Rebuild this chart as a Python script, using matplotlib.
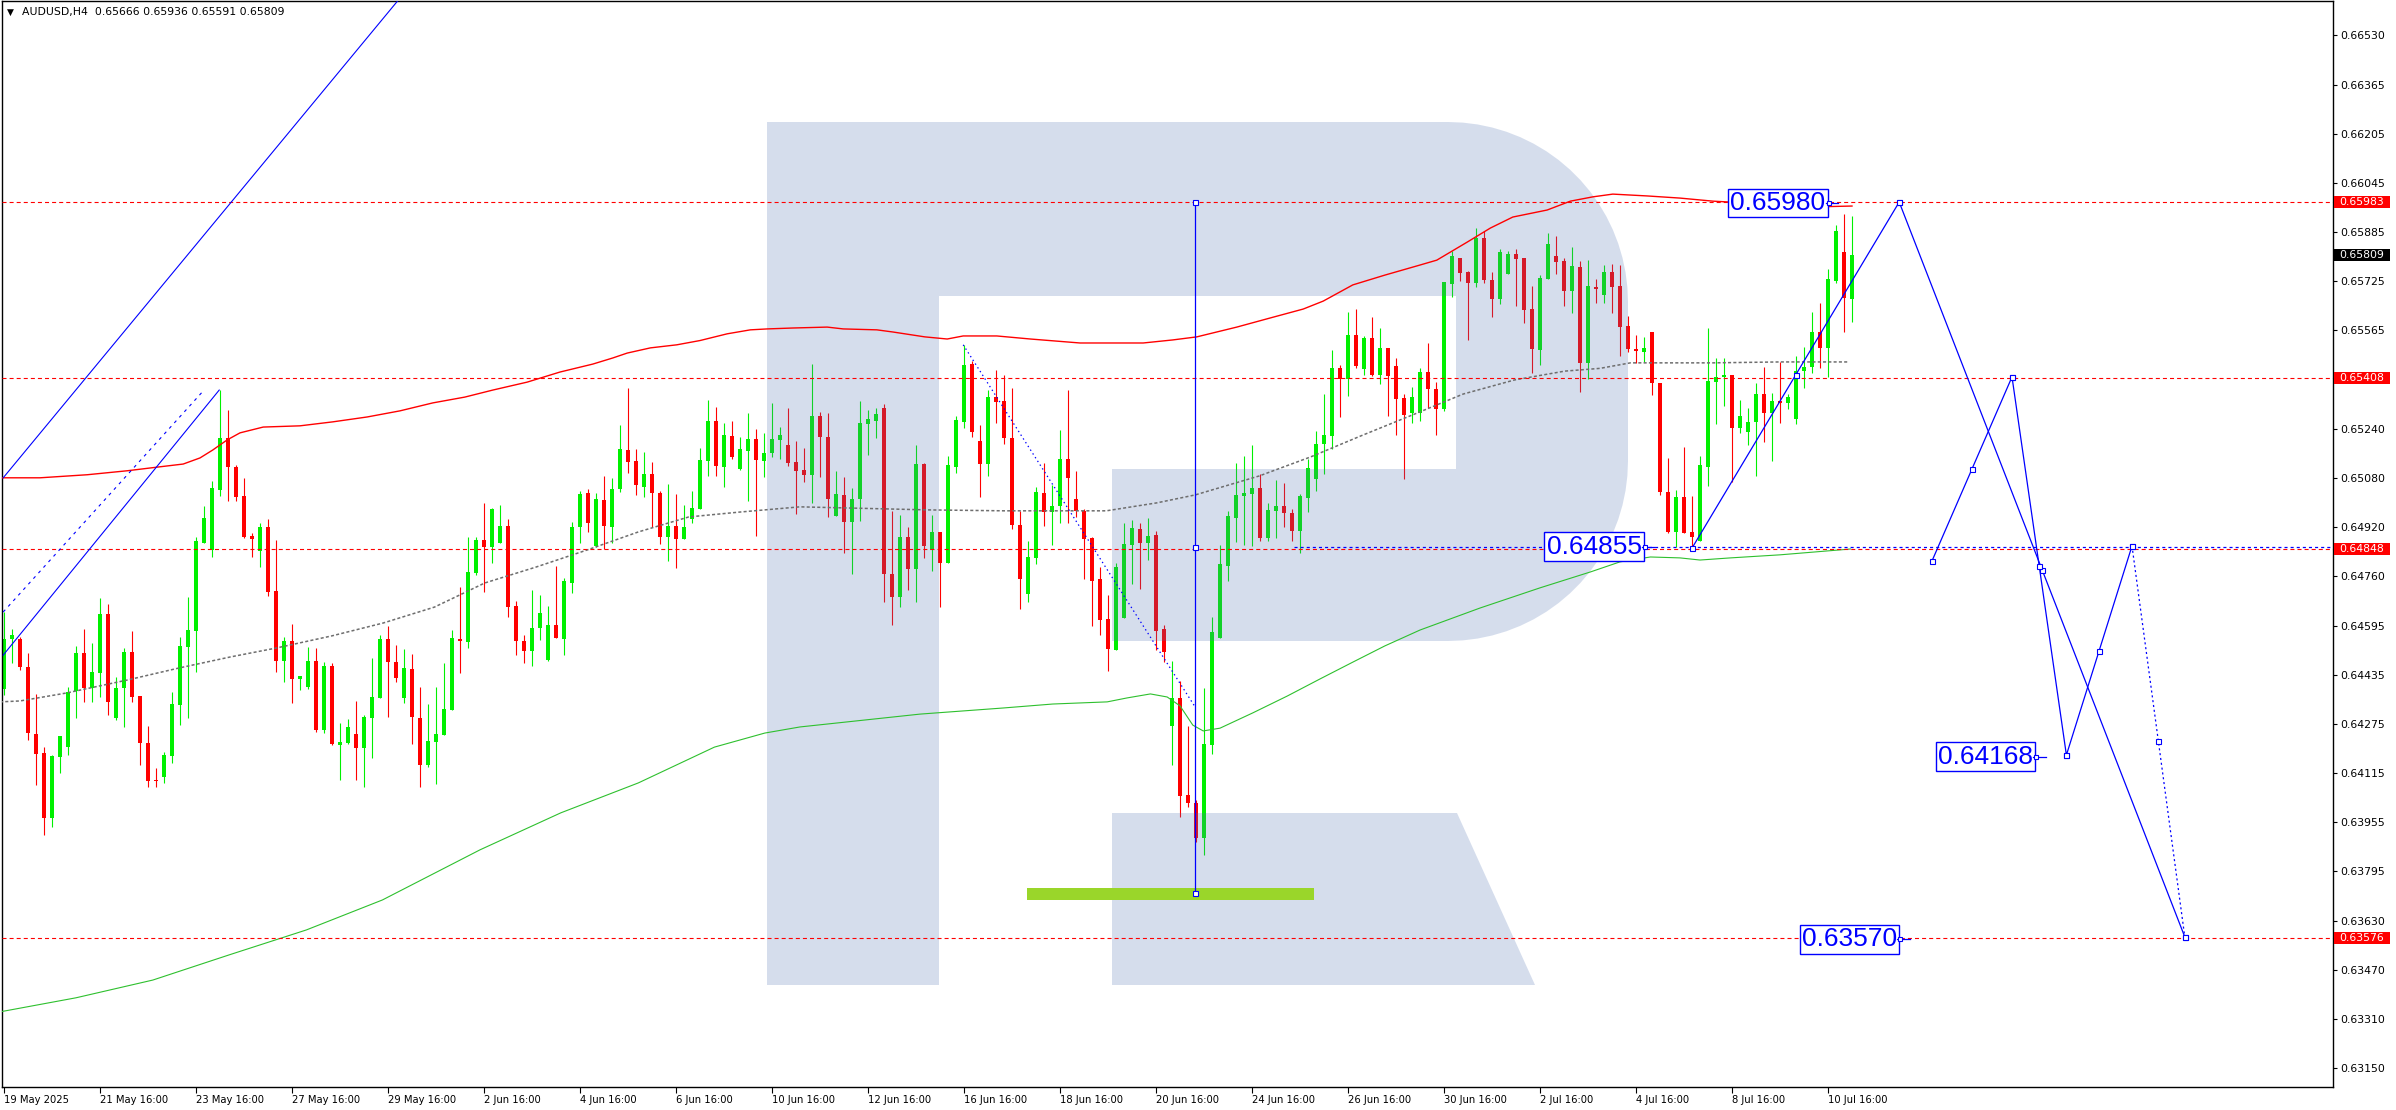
import numpy as np
import matplotlib
matplotlib.use("Agg")
import matplotlib.pyplot as plt
import matplotlib.transforms as mtransforms
from matplotlib.patches import Polygon, Rectangle

# AUDUSD H4, bar 0 = 19 May 2025 16:00, one bar = 4 hours
opens = [
    0.64390, 0.64553, 0.64553, 0.64461, 0.64242, 0.64180, 0.63968, 0.64167, 0.64199, 0.64383, 0.64507, 0.64393,
    0.64441, 0.64635, 0.64295, 0.64393, 0.64510, 0.64366, 0.64212, 0.64092, 0.64101, 0.64170, 0.64337, 0.64527,
    0.64579, 0.64867, 0.64844, 0.65040, 0.65211, 0.65115, 0.65020, 0.64889, 0.64841, 0.64919, 0.64710, 0.64481,
    0.64547, 0.64422, 0.64396, 0.64481, 0.64255, 0.64464, 0.64206, 0.64212, 0.64242, 0.64196, 0.64295, 0.64360,
    0.64553, 0.64477, 0.64360, 0.64455, 0.64295, 0.64141, 0.64215, 0.64239, 0.64321, 0.64553, 0.64543, 0.64769,
    0.64877, 0.64854, 0.64867, 0.64922, 0.64660, 0.64547, 0.64514, 0.64589, 0.64484, 0.64599, 0.64553, 0.64736,
    0.64919, 0.65030, 0.64857, 0.65008, 0.64919, 0.65044, 0.65171, 0.65135, 0.65050, 0.65093, 0.65030, 0.64886,
    0.64922, 0.64880, 0.64946, 0.64979, 0.65135, 0.65266, 0.65115, 0.65217, 0.65109, 0.65168, 0.65208, 0.65135,
    0.65161, 0.65204, 0.65188, 0.65131, 0.65106, 0.65090, 0.65282, 0.65214, 0.64955, 0.65024, 0.64935, 0.65011,
    0.65256, 0.65266, 0.65309, 0.64766, 0.64690, 0.64886, 0.64782, 0.65125, 0.64844, 0.64902, 0.64801, 0.65115,
    0.65262, 0.65452, 0.65201, 0.65125, 0.65344, 0.65332, 0.65211, 0.64926, 0.64700, 0.64818, 0.65030, 0.64968,
    0.64988, 0.65142, 0.65011, 0.64972, 0.64883, 0.64750, 0.64619, 0.64517, 0.64622, 0.64861, 0.64913, 0.64867,
    0.64893, 0.64586, 0.64268, 0.64360, 0.64043, 0.64016, 0.63902, 0.64206, 0.64556, 0.64791, 0.64949, 0.65020,
    0.65027, 0.65047, 0.64883, 0.64972, 0.64988, 0.64965, 0.64906, 0.65014, 0.65076, 0.65191, 0.65217, 0.65439,
    0.65403, 0.65547, 0.65436, 0.65537, 0.65417, 0.65505, 0.65446, 0.65341, 0.65292, 0.65292, 0.65426, 0.65371,
    0.65305, 0.65714, 0.65799, 0.65753, 0.65717, 0.65864, 0.65727, 0.65665, 0.65747, 0.65812, 0.65799, 0.65632,
    0.65498, 0.65730, 0.65805, 0.65789, 0.65691, 0.65770, 0.65455, 0.65704, 0.65678, 0.65753, 0.65707, 0.65577,
    0.65502, 0.65492, 0.65557, 0.65390, 0.65033, 0.64902, 0.65017, 0.64902, 0.64874, 0.65115, 0.65393, 0.65410,
    0.65417, 0.65243, 0.65230, 0.65262, 0.65354, 0.65292, 0.65332, 0.65325, 0.65273, 0.65430, 0.65443, 0.65557,
    0.65505, 0.65724, 0.65819, 0.65666,
]
highs = [
    0.64641, 0.64586, 0.64559, 0.64507, 0.64373, 0.64199, 0.64174, 0.64235, 0.64396, 0.64530, 0.64586, 0.64540,
    0.64687, 0.64667, 0.64428, 0.64524, 0.64579, 0.64366, 0.64268, 0.64131, 0.64183, 0.64379, 0.64559, 0.64690,
    0.64886, 0.64988, 0.65070, 0.65367, 0.65302, 0.65122, 0.65080, 0.64899, 0.64932, 0.64946, 0.64877, 0.64559,
    0.64602, 0.64431, 0.64527, 0.64524, 0.64477, 0.64474, 0.64278, 0.64292, 0.64350, 0.64305, 0.64491, 0.64566,
    0.64595, 0.64534, 0.64521, 0.64504, 0.64396, 0.64340, 0.64396, 0.64474, 0.64582, 0.64723, 0.64886, 0.64886,
    0.64998, 0.64982, 0.64992, 0.64946, 0.64677, 0.64566, 0.64713, 0.64697, 0.64660, 0.64791, 0.64753, 0.64935,
    0.65037, 0.65044, 0.65030, 0.65086, 0.65080, 0.65253, 0.65374, 0.65175, 0.65164, 0.65131, 0.65037, 0.65060,
    0.65027, 0.64992, 0.65037, 0.65178, 0.65335, 0.65312, 0.65259, 0.65266, 0.65214, 0.65292, 0.65240, 0.65227,
    0.65325, 0.65246, 0.65309, 0.65201, 0.65178, 0.65452, 0.65295, 0.65292, 0.65103, 0.65083, 0.65047, 0.65332,
    0.65302, 0.65309, 0.65322, 0.64972, 0.64959, 0.64919, 0.65188, 0.65128, 0.64959, 0.64902, 0.65151, 0.65282,
    0.65515, 0.65462, 0.65253, 0.65367, 0.65433, 0.65417, 0.65374, 0.64972, 0.64874, 0.65050, 0.65128, 0.65057,
    0.65237, 0.65367, 0.65103, 0.64979, 0.64886, 0.64788, 0.64697, 0.64801, 0.64932, 0.64942, 0.64932, 0.64949,
    0.64906, 0.64599, 0.64481, 0.64416, 0.64268, 0.64026, 0.64393, 0.64625, 0.64861, 0.64972, 0.65128, 0.65151,
    0.65188, 0.65093, 0.64998, 0.65073, 0.65063, 0.64979, 0.65027, 0.65142, 0.65234, 0.65354, 0.65498, 0.65449,
    0.65622, 0.65632, 0.65544, 0.65606, 0.65570, 0.65505, 0.65472, 0.65354, 0.65377, 0.65439, 0.65521, 0.65393,
    0.65720, 0.65822, 0.65799, 0.65756, 0.65897, 0.65887, 0.65753, 0.65828, 0.65822, 0.65828, 0.65799, 0.65707,
    0.65743, 0.65881, 0.65871, 0.65799, 0.65835, 0.65789, 0.65792, 0.65730, 0.65776, 0.65779, 0.65776, 0.65609,
    0.65547, 0.65541, 0.65557, 0.65390, 0.65145, 0.65040, 0.65181, 0.65020, 0.65151, 0.65570, 0.65472, 0.65472,
    0.65417, 0.65335, 0.65309, 0.65390, 0.65443, 0.65358, 0.65459, 0.65354, 0.65478, 0.65508, 0.65622, 0.65652,
    0.65763, 0.65907, 0.65943, 0.65936,
]
lows = [
    0.64370, 0.64474, 0.64451, 0.64222, 0.64076, 0.63912, 0.63938, 0.64114, 0.64174, 0.64295, 0.64346, 0.64346,
    0.64363, 0.64305, 0.64288, 0.64265, 0.64346, 0.64141, 0.64069, 0.64069, 0.64082, 0.64147, 0.64272, 0.64295,
    0.64444, 0.64867, 0.64821, 0.65020, 0.65005, 0.65005, 0.64883, 0.64821, 0.64788, 0.64693, 0.64444, 0.64412,
    0.64343, 0.64386, 0.64390, 0.64248, 0.64245, 0.64206, 0.64092, 0.64209, 0.64092, 0.64069, 0.64164, 0.64360,
    0.64298, 0.64412, 0.64343, 0.64209, 0.64069, 0.64134, 0.64079, 0.64239, 0.64321, 0.64441, 0.64524, 0.64763,
    0.64706, 0.64801, 0.64867, 0.64625, 0.64501, 0.64474, 0.64464, 0.64550, 0.64481, 0.64556, 0.64501, 0.64703,
    0.64867, 0.64902, 0.64854, 0.64848, 0.64867, 0.65033, 0.65096, 0.65024, 0.65017, 0.64919, 0.64864, 0.64808,
    0.64785, 0.64880, 0.64932, 0.64979, 0.65086, 0.65086, 0.65050, 0.65142, 0.65106, 0.65005, 0.64889, 0.65083,
    0.65148, 0.65142, 0.65118, 0.64962, 0.65066, 0.64998, 0.65083, 0.64952, 0.64955, 0.64834, 0.64766, 0.64939,
    0.65155, 0.65211, 0.64673, 0.64599, 0.64657, 0.64713, 0.64673, 0.64818, 0.64776, 0.64657, 0.64801, 0.65096,
    0.65243, 0.65214, 0.65017, 0.65086, 0.65259, 0.65191, 0.64913, 0.64651, 0.64673, 0.64798, 0.64922, 0.64861,
    0.64932, 0.64932, 0.64952, 0.64750, 0.64595, 0.64566, 0.64448, 0.64517, 0.64622, 0.64733, 0.64717, 0.64811,
    0.64517, 0.64477, 0.64141, 0.63971, 0.64003, 0.63888, 0.63847, 0.64177, 0.64556, 0.64743, 0.64870, 0.64861,
    0.64857, 0.64874, 0.64874, 0.64883, 0.64919, 0.64874, 0.64834, 0.64968, 0.65037, 0.65093, 0.65175, 0.65279,
    0.65347, 0.65439, 0.65417, 0.65413, 0.65387, 0.65282, 0.65221, 0.65076, 0.65259, 0.65266, 0.65309, 0.65221,
    0.65299, 0.65671, 0.65724, 0.65531, 0.65704, 0.65717, 0.65606, 0.65649, 0.65747, 0.65642, 0.65586, 0.65423,
    0.65449, 0.65730, 0.65747, 0.65642, 0.65619, 0.65361, 0.65403, 0.65652, 0.65652, 0.65619, 0.65478, 0.65492,
    0.65456, 0.65459, 0.65351, 0.65024, 0.64899, 0.64854, 0.64899, 0.64854, 0.64874, 0.65053, 0.65256, 0.65315,
    0.65066, 0.65227, 0.65188, 0.65086, 0.65198, 0.65135, 0.65259, 0.65305, 0.65256, 0.65374, 0.65423, 0.65439,
    0.65410, 0.65717, 0.65557, 0.65591,
]
closes = [
    0.64553, 0.64566, 0.64461, 0.64245, 0.64177, 0.63968, 0.64170, 0.64235, 0.64379, 0.64507, 0.64393, 0.64444,
    0.64635, 0.64346, 0.64393, 0.64510, 0.64363, 0.64212, 0.64089, 0.64089, 0.64174, 0.64340, 0.64530, 0.64582,
    0.64874, 0.64949, 0.65047, 0.65211, 0.65115, 0.65017, 0.64886, 0.64880, 0.64919, 0.64706, 0.64481, 0.64547,
    0.64422, 0.64431, 0.64481, 0.64255, 0.64464, 0.64209, 0.64215, 0.64265, 0.64196, 0.64298, 0.64363, 0.64553,
    0.64477, 0.64425, 0.64458, 0.64298, 0.64141, 0.64219, 0.64242, 0.64324, 0.64556, 0.64547, 0.64772, 0.64877,
    0.64854, 0.64979, 0.64922, 0.64657, 0.64547, 0.64514, 0.64589, 0.64638, 0.64599, 0.64556, 0.64743, 0.64919,
    0.65027, 0.64932, 0.65011, 0.64922, 0.65044, 0.65175, 0.65131, 0.65057, 0.65093, 0.65030, 0.64886, 0.64922,
    0.64880, 0.64919, 0.64982, 0.65138, 0.65266, 0.65118, 0.65221, 0.65148, 0.65175, 0.65208, 0.65138, 0.65161,
    0.65208, 0.65221, 0.65128, 0.65103, 0.65090, 0.65282, 0.65214, 0.65011, 0.65027, 0.64935, 0.65011, 0.65259,
    0.65273, 0.65289, 0.64766, 0.64690, 0.64886, 0.64782, 0.65125, 0.64857, 0.64902, 0.64801, 0.65122, 0.65269,
    0.65449, 0.65230, 0.65125, 0.65344, 0.65328, 0.65211, 0.64926, 0.64750, 0.64821, 0.65033, 0.64968, 0.64988,
    0.65142, 0.65080, 0.64972, 0.64880, 0.64743, 0.64615, 0.64521, 0.64788, 0.64864, 0.64916, 0.64867, 0.64889,
    0.64579, 0.64510, 0.64360, 0.64039, 0.64016, 0.63902, 0.64209, 0.64575, 0.64798, 0.64955, 0.65024, 0.65030,
    0.65047, 0.64883, 0.64975, 0.64988, 0.64965, 0.64906, 0.65020, 0.65112, 0.65191, 0.65221, 0.65439, 0.65403,
    0.65547, 0.65446, 0.65537, 0.65417, 0.65505, 0.65413, 0.65338, 0.65286, 0.65344, 0.65426, 0.65371, 0.65305,
    0.65720, 0.65805, 0.65750, 0.65717, 0.65864, 0.65727, 0.65665, 0.65819, 0.65812, 0.65796, 0.65629, 0.65502,
    0.65734, 0.65845, 0.65786, 0.65691, 0.65773, 0.65455, 0.65707, 0.65697, 0.65753, 0.65704, 0.65573, 0.65502,
    0.65495, 0.65505, 0.65390, 0.65033, 0.64902, 0.65017, 0.64899, 0.64886, 0.65122, 0.65397, 0.65410, 0.65417,
    0.65243, 0.65282, 0.65262, 0.65354, 0.65292, 0.65332, 0.65325, 0.65344, 0.65430, 0.65443, 0.65557, 0.65505,
    0.65730, 0.65887, 0.65668, 0.65809,
]

# bands (upper red, middle grey, lower green), x in bars
upper_x = [-0.5, 4.5, 10.4, 15.4, 19.5, 22.4, 24.5, 26.1, 27.9, 29.5, 32.4, 37.0, 41.1, 45.4, 49.5, 53.6,
           57.6, 61.1, 65.4, 69.5, 73.6, 76.1, 77.9, 80.8, 84.1, 87.0, 90.4, 93.3, 95.4, 98.6, 102.9, 104.9,
           109.1, 111.1, 115.1, 117.9, 119.9, 124.1, 128.3, 134.5, 142.4, 146.1, 149.1, 154.1, 158.3, 162.4,
           164.9, 168.6, 172.6, 177.0, 179.1, 182.9, 185.8, 188.6, 192.9, 195.8, 198.6, 201.1, 205.4, 209.5,
           213.6, 217.9, 222.0, 226.1, 231.0]
upper_y = [0.65080, 0.65080, 0.65090, 0.65103, 0.65116, 0.65125, 0.65145, 0.65171, 0.65204, 0.65227, 0.65246,
           0.65250, 0.65263, 0.65279, 0.65299, 0.65325, 0.65344, 0.65367, 0.65393, 0.65426, 0.65452, 0.65472,
           0.65488, 0.65505, 0.65515, 0.65529, 0.65551, 0.65564, 0.65567, 0.65570, 0.65573, 0.65567, 0.65564,
           0.65557, 0.65541, 0.65534, 0.65544, 0.65544, 0.65534, 0.65521, 0.65521, 0.65531, 0.65541, 0.65573,
           0.65603, 0.65632, 0.65658, 0.65711, 0.65743, 0.65776, 0.65792, 0.65851, 0.65897, 0.65933, 0.65956,
           0.65985, 0.65999, 0.66008, 0.66002, 0.65995, 0.65985, 0.65979, 0.65972, 0.65966, 0.65969]
mid_x = [-0.5, 2.0, 7.8, 15.5, 21.9, 28.3, 34.0, 41.0, 47.4, 53.8, 60.1, 66.5, 72.9, 79.3, 85.6, 92.0, 99.5,
         115.5, 125.0, 137.8, 144.1, 148.9, 156.9, 163.3, 169.6, 176.0, 182.4, 188.8, 195.1, 199.5, 203.3,
         213.6, 222.0, 230.4]
mid_y = [0.64347, 0.64350, 0.64376, 0.64419, 0.64458, 0.64494, 0.64523, 0.64563, 0.64605, 0.64657, 0.64736,
         0.64788, 0.64844, 0.64903, 0.64952, 0.64968, 0.64985, 0.64975, 0.64972, 0.64972, 0.64998, 0.65024,
         0.65086, 0.65148, 0.65217, 0.65285, 0.65354, 0.65400, 0.65429, 0.65438, 0.65456, 0.65456, 0.65459,
         0.65459]
lower_x = [-0.5, 9.0, 18.6, 28.1, 37.8, 47.3, 59.5, 69.6, 79.3, 88.8, 95.1, 99.5, 114.5, 124.9, 131.1, 137.9,
           140.4, 143.3, 145.4, 147.0, 148.6, 149.9, 152.0, 156.1, 160.4, 164.5, 168.6, 172.6, 177.0, 184.5,
           192.0, 198.3, 202.0, 205.8, 209.5, 212.0, 215.8, 222.0, 230.8]
lower_y = [0.63333, 0.63379, 0.63437, 0.63519, 0.63601, 0.63699, 0.63863, 0.63984, 0.64082, 0.64199, 0.64245,
           0.64265, 0.64307, 0.64327, 0.64340, 0.64347, 0.64360, 0.64373, 0.64363, 0.64334, 0.64271, 0.64252,
           0.64261, 0.64311, 0.64366, 0.64422, 0.64477, 0.64530, 0.64582, 0.64654, 0.64720, 0.64772, 0.64805,
           0.64821, 0.64818, 0.64811, 0.64818, 0.64828, 0.64847]

levels = [0.65983, 0.65408, 0.64848, 0.63576]
last_price = 0.65809

y_ticks = [0.66530, 0.66365, 0.66205, 0.66045, 0.65885, 0.65725, 0.65565, 0.65240, 0.65080, 0.64920,
           0.64760, 0.64595, 0.64435, 0.64275, 0.64115, 0.63955, 0.63795, 0.63630, 0.63470, 0.63310, 0.63150]
x_ticks = list(range(0, 229, 12))
x_labels = ['19 May 2025', '21 May 16:00', '23 May 16:00', '27 May 16:00', '29 May 16:00', '2 Jun 16:00',
            '4 Jun 16:00', '6 Jun 16:00', '10 Jun 16:00', '12 Jun 16:00', '16 Jun 16:00', '18 Jun 16:00',
            '20 Jun 16:00', '24 Jun 16:00', '26 Jun 16:00', '30 Jun 16:00', '2 Jul 16:00', '4 Jul 16:00',
            '8 Jul 16:00', '10 Jul 16:00']

# drawn objects: (x in bars, price)
channel_up = [(-0.1, 0.65080), (49.3, 0.66643)]
channel_lo = [(-0.1, 0.64500), (26.9, 0.65367)]
channel_mid = [(-0.1, 0.64641), (24.9, 0.65364)]
fall_line = [(119.9, 0.65515), (148.9, 0.64330)]
vert_line = [(148.9, 0.65983), (148.9, 0.63722)]
target_box = (127.9, 163.8, 0.63699, 0.63738)
path_main = [(211.0, 0.64850), (236.9, 0.65982), (272.6, 0.63578)]
path_alt = [(241.0, 0.64808), (251.0, 0.65410), (257.8, 0.64173), (266.0, 0.64857)]
path_alt_end = [(266.0, 0.64857), (272.6, 0.63578)]
blue_level = [(161.3, 0.64855), (291.2, 0.64855)]
price_tags = [(228.1, 0.65980, '0.65980'), (205.1, 0.64855, '0.64855'),
              (254.0, 0.64168, '0.64168'), (237.0, 0.63570, '0.63570')]

W, H = 2396, 1110
plt.rcParams['font.family'] = ['DejaVu Sans']
plt.rcParams['lines.scale_dashes'] = False

fig = plt.figure(figsize=(W / 100, H / 100), dpi=100)
ax = fig.add_axes([2 / W, 23 / H, 2331 / W, 1086 / H])
ax.set_xlim(-0.25, 291.125)
ax.set_ylim(0.630872, 0.666397)

GREEN = '#00F000'
RED = '#FF0000'
BLUE = '#0000FF'

o = np.array(opens); h = np.array(highs); l = np.array(lows); c = np.array(closes)
x = np.arange(len(c))
col = np.where(c >= o, GREEN, RED)
ax.vlines(x, l, h, colors=col, linewidth=0.8, zorder=2)
ax.bar(x, np.maximum(np.abs(c - o), 0.00004), bottom=np.minimum(o, c), width=0.62,
       color=col, linewidth=0, zorder=2.5)

# logo watermark (image pixel coordinates, y downwards), laid over the candles
pix = mtransforms.Affine2D().scale(1, -1).translate(0, H)
wm = dict(facecolor=(77 / 255, 112 / 255, 178 / 255), alpha=0.235, edgecolor='none',
          transform=pix, zorder=3)
t = np.linspace(np.pi / 2, 0, 20)
top_arc = [(1448 + 180 * np.cos(a), 302 - 180 * np.sin(a)) for a in t]
bot_arc = [(1448 + 180 * np.cos(a), 461 + 180 * np.sin(a)) for a in t[::-1]]
bowl = [(939, 122)] + top_arc + bot_arc + [(1112, 641), (1112, 469), (1456, 469), (1456, 296), (939, 296)]
ax.add_patch(Polygon([(767, 122), (939, 122), (939, 985), (767, 985)], **wm))
ax.add_patch(Polygon(bowl, **wm))
ax.add_patch(Polygon([(1112, 813), (1457, 813), (1535, 985), (1112, 985)], **wm))

# bands
ax.plot(upper_x, upper_y, color=RED, lw=1.0, zorder=4)
ax.plot(mid_x, mid_y, color='#6E6E6E', lw=1.1, dashes=(2.2, 1.6), zorder=4)
ax.plot(lower_x, lower_y, color='#2EC02E', lw=0.8, zorder=4)

for lv in levels:
    ax.axhline(lv, color=RED, lw=0.8, dashes=(2.9, 2.2), zorder=4)

# blue objects
def seg(pts, **kw):
    xs, ys = zip(*pts)
    ax.plot(xs, ys, color=BLUE, zorder=5, **kw)

def squares(pts):
    xs, ys = zip(*pts)
    ax.plot(xs, ys, ls='none', marker='s', ms=3.6, mfc='white', mec=BLUE, mew=0.8, zorder=6)

def with_mid(p, q):
    return [p, ((p[0] + q[0]) / 2, (p[1] + q[1]) / 2), q]

seg(channel_up, lw=0.8)
seg(channel_lo, lw=0.8)
seg(channel_mid, lw=0.8, dashes=(2.2, 3.2))
seg(fall_line, lw=0.9, dashes=(1.0, 2.2))
seg(blue_level, lw=0.9, dashes=(2.2, 2.2))
seg(vert_line, lw=0.9)
squares(with_mid(*vert_line))
ax.add_patch(Rectangle((target_box[0], target_box[2]), target_box[1] - target_box[0],
                       target_box[3] - target_box[2], facecolor='#9AD62A', edgecolor='none', zorder=4.5))

seg(path_main, lw=0.9)
squares(with_mid(path_main[0], path_main[1]) + with_mid(path_main[1], path_main[2]))
seg(path_alt, lw=0.9)
for i in range(len(path_alt) - 1):
    squares(with_mid(path_alt[i], path_alt[i + 1]))
seg(path_alt_end, lw=0.9, dashes=(1.5, 2.0))
squares(with_mid(*path_alt_end))

for xb, pv, txt in price_tags:
    ax.text(xb - 0.4, pv, txt, ha='right', va='center', fontsize=19, family='Liberation Sans',
            color=BLUE, zorder=7,
            bbox=dict(boxstyle='square,pad=0.08', facecolor='white', edgecolor=BLUE, lw=1.0))
    ax.plot([xb - 0.4, xb + 1.2], [pv, pv], color=BLUE, lw=0.9, zorder=7)
    ax.plot([xb], [pv], ls='none', marker='s', ms=2.6, mfc='white', mec=BLUE, mew=0.8, zorder=8)

# axes styling
for s in ax.spines.values():
    s.set_linewidth(1.0)
    s.set_color('black')
ax.yaxis.tick_right()
ax.set_yticks(y_ticks)
ax.set_yticklabels([f'{v:.5f}' for v in y_ticks])
ax.set_xticks(x_ticks)
ax.set_xticklabels(x_labels, ha='left')
ax.tick_params(axis='y', direction='out', length=3, width=0.8, pad=2, labelsize=7.8, colors='black')
ax.tick_params(axis='x', direction='out', length=4, width=0.8, pad=2, labelsize=7.2, colors='black')

# coloured price tags on the scale
tag_tr = mtransforms.blended_transform_factory(mtransforms.IdentityTransform(), ax.transData)
half = 6 / 30570
for pv, fc in [(levels[0], RED), (last_price, 'black'), (levels[1], RED), (levels[2], RED), (levels[3], RED)]:
    ax.add_patch(Rectangle((2334, pv - half), 56, 2 * half, transform=tag_tr, facecolor=fc,
                           edgecolor='none', clip_on=False, zorder=9))
    ax.text(2339, pv, f'{pv:.5f}', transform=tag_tr, ha='left', va='center', fontsize=7.8,
            color='white', clip_on=False, zorder=10)

fig.text(7 / W, 1 - 12.5 / H, '\u25bc', fontsize=6.5, va='center', ha='left')
fig.text(22 / W, 1 - 12.5 / H, 'AUDUSD,H4  0.65666 0.65936 0.65591 0.65809', fontsize=7.8,
         va='center', ha='left')

fig.savefig('out.png', dpi=100, facecolor='white')
